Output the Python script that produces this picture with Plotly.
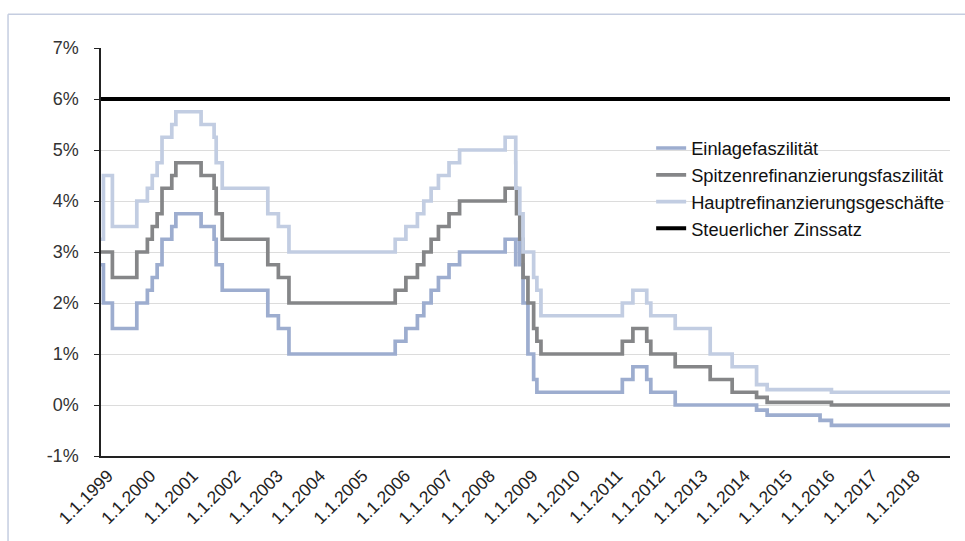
import plotly.graph_objects as go

# ECB key interest rates (step changes), in percent
einlage_dates = ["1999-01-01", "1999-01-04", "1999-01-22", "1999-04-09", "1999-11-05",
                 "2000-02-04", "2000-03-17", "2000-04-28", "2000-06-09", "2000-09-01",
                 "2000-10-06", "2001-05-11", "2001-08-31", "2001-09-18", "2001-11-09",
                 "2002-12-06", "2003-03-07", "2003-06-06", "2005-12-06", "2006-03-08",
                 "2006-06-15", "2006-08-09", "2006-10-11", "2006-12-13", "2007-03-14",
                 "2007-06-13", "2008-07-09", "2008-10-08", "2008-10-09", "2008-11-12",
                 "2008-12-10", "2009-01-21", "2009-03-11", "2009-04-08", "2011-04-13",
                 "2011-07-13", "2011-11-09", "2011-12-14", "2012-07-11", "2014-06-11",
                 "2014-09-10", "2015-12-09", "2016-03-16", "2018-12-31"]
einlage = [2.75, 2.75, 2.00, 1.50, 2.00,
           2.25, 2.50, 2.75, 3.25, 3.50,
           3.75, 3.50, 3.25, 2.75, 2.25,
           1.75, 1.50, 1.00, 1.25, 1.50,
           1.75, 2.00, 2.25, 2.50, 2.75,
           3.00, 3.25, 2.75, 3.25, 2.75,
           2.00, 1.00, 0.50, 0.25, 0.50,
           0.75, 0.50, 0.25, 0.00, -0.10,
           -0.20, -0.30, -0.40, -0.40]

spitzen_dates = ["1999-01-01", "1999-04-09", "1999-11-05", "2000-02-04", "2000-03-17",
                 "2000-04-28", "2000-06-09", "2000-09-01", "2000-10-06", "2001-05-11",
                 "2001-08-31", "2001-09-18", "2001-11-09", "2002-12-06", "2003-03-07",
                 "2003-06-06", "2005-12-06", "2006-03-08", "2006-06-15", "2006-08-09",
                 "2006-10-11", "2006-12-13", "2007-03-14", "2007-06-13", "2008-07-09",
                 "2008-10-15", "2008-11-12", "2008-12-10", "2009-01-21", "2009-03-11",
                 "2009-04-08", "2009-05-13", "2011-04-13", "2011-07-13", "2011-11-09",
                 "2011-12-14", "2012-07-11", "2013-05-08", "2013-11-13", "2014-06-11",
                 "2014-09-10", "2016-03-16", "2018-12-31"]
spitzen = [3.00, 2.50, 3.00, 3.25, 3.50,
           3.75, 4.25, 4.50, 4.75, 4.50,
           4.25, 3.75, 3.25, 2.75, 2.50,
           2.00, 2.25, 2.50, 2.75, 3.00,
           3.25, 3.50, 3.75, 4.00, 4.25,
           3.75, 3.25, 2.50, 2.00, 1.50,
           1.25, 1.00, 1.25, 1.50, 1.25,
           1.00, 0.75, 0.50, 0.25, 0.15,
           0.05, 0.00, 0.00]

haupt_dates = ["1999-01-01", "1999-01-04", "1999-01-22", "1999-04-09", "1999-11-05",
               "2000-02-04", "2000-03-17", "2000-04-28", "2000-06-09", "2000-09-01",
               "2000-10-06", "2001-05-11", "2001-08-31", "2001-09-18", "2001-11-09",
               "2002-12-06", "2003-03-07", "2003-06-06", "2005-12-06", "2006-03-08",
               "2006-06-15", "2006-08-09", "2006-10-11", "2006-12-13", "2007-03-14",
               "2007-06-13", "2008-07-09", "2008-10-08", "2008-10-09", "2008-11-12",
               "2008-12-10", "2009-03-11", "2009-04-08", "2009-05-13", "2011-04-13",
               "2011-07-13", "2011-11-09", "2011-12-14", "2012-07-11", "2013-05-08",
               "2013-11-13", "2014-06-11", "2014-09-10", "2016-03-16", "2018-12-31"]
haupt = [3.25, 3.25, 4.50, 3.50, 4.00,
         4.25, 4.50, 4.75, 5.25, 5.50,
         5.75, 5.50, 5.25, 4.75, 4.25,
         3.75, 3.50, 3.00, 3.25, 3.50,
         3.75, 4.00, 4.25, 4.50, 4.75,
         5.00, 5.25, 4.75, 4.25, 3.75,
         3.00, 2.50, 2.25, 1.75, 2.00,
         2.25, 2.00, 1.75, 1.50, 1.00,
         0.75, 0.40, 0.30, 0.25, 0.25]

steuer_dates = ["1999-01-01", "2018-12-31"]
steuer = [6.0, 6.0]

# axis ticks
x_tickvals = [f"{y}-01-01" for y in range(1999, 2019)]
x_ticktext = [f"1.1.{y}" for y in range(1999, 2019)]
y_tickvals = [-1, 0, 1, 2, 3, 4, 5, 6, 7]
y_ticktext = ["-1%", "0%", "1%", "2%", "3%", "4%", "5%", "6%", "7%"]

FONT = "Liberation Sans, Arial, sans-serif"

fig = go.Figure()
fig.add_trace(go.Scatter(x=einlage_dates, y=einlage, mode="lines", line_shape="hv",
                         name="Einlagefaszilität",
                         line=dict(color="#9dadcf", width=3.7)))
fig.add_trace(go.Scatter(x=spitzen_dates, y=spitzen, mode="lines", line_shape="hv",
                         name="Spitzenrefinanzierungsfaszilität",
                         line=dict(color="#858688", width=3.7)))
fig.add_trace(go.Scatter(x=haupt_dates, y=haupt, mode="lines", line_shape="hv",
                         name="Hauptrefinanzierungsgeschäfte",
                         line=dict(color="#c2cde2", width=3.7)))
fig.add_trace(go.Scatter(x=steuer_dates, y=steuer, mode="lines",
                         name="Steuerlicher Zinssatz",
                         line=dict(color="#000000", width=4)))

fig.update_layout(
    width=965, height=541,
    margin=dict(l=101, r=15, t=48, b=85),
    paper_bgcolor="white", plot_bgcolor="white",
    font=dict(family=FONT, size=17, color="#222222"),
    showlegend=True,
    legend=dict(x=0.648, y=0.80, xanchor="left", yanchor="top",
                bgcolor="rgba(0,0,0,0)", font=dict(size=18.3, color="#111111"),
                tracegroupgap=0),
    xaxis=dict(type="date", range=["1999-01-01", "2018-12-31"],
               tickvals=x_tickvals, ticktext=x_ticktext, tickangle=-45,
               showgrid=False, showline=True, linecolor="#222222", linewidth=1.5,
               ticks="", ticklabelshift=7, ticklabelstandoff=1,
               tickfont=dict(size=17.5, color="#222222"), zeroline=False),
    yaxis=dict(range=[-1, 7], tickvals=y_tickvals, ticktext=y_ticktext,
               showgrid=True, gridcolor="#dcdcdc", gridwidth=1,
               showline=True, linecolor="#222222", linewidth=1.5,
               ticks="outside", ticklen=5, tickcolor="#222222",
               ticklabelstandoff=12,
               tickfont=dict(size=18, color="#333333"), zeroline=False),
    shapes=[
        dict(type="line", xref="paper", yref="paper",
             x0=-0.1095, x1=1.02, y0=1.0825, y1=1.0825,
             line=dict(color="#c5cde0", width=1.5)),
        dict(type="line", xref="paper", yref="paper",
             x0=-0.1095, x1=-0.1095, y0=1.0825, y1=-0.21,
             line=dict(color="#c5cde0", width=1.5)),
    ],
)

fig.write_html("out.html")
